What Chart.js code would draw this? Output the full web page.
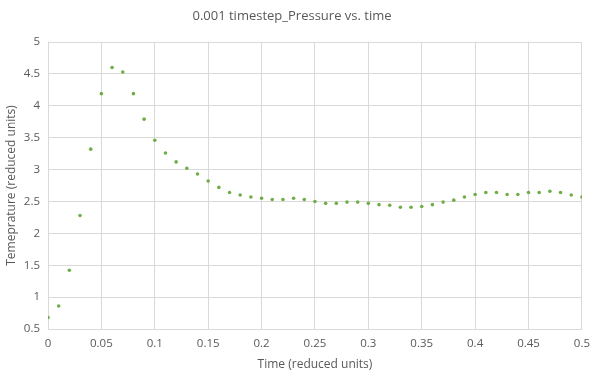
<!DOCTYPE html>
<html>
<head>
<meta charset="utf-8">
<script src="https://cdn.jsdelivr.net/npm/chart.js@4"></script>
<style>
  html, body { margin: 0; padding: 0; background: #fff; }
  #wrap { width: 598px; height: 376px; }
</style>
</head>
<body>
<div id="wrap"><canvas id="chart" width="598" height="376"></canvas></div>
<script>
const times = [0, 0.01, 0.02, 0.03, 0.04, 0.05, 0.06, 0.07, 0.08, 0.09,
    0.1, 0.11, 0.12, 0.13, 0.14, 0.15, 0.16, 0.17, 0.18, 0.19,
    0.2, 0.21, 0.22, 0.23, 0.24, 0.25, 0.26, 0.27, 0.28, 0.29,
    0.3, 0.31, 0.32, 0.33, 0.34, 0.35, 0.36, 0.37, 0.38, 0.39,
    0.4, 0.41, 0.42, 0.43, 0.44, 0.45, 0.46, 0.47, 0.48, 0.49, 0.5];
const temps = [0.68, 0.86, 1.42, 2.28, 3.32, 4.19, 4.60, 4.53, 4.19, 3.79,
    3.46, 3.26, 3.12, 3.02, 2.93, 2.82, 2.72, 2.64, 2.60, 2.57,
    2.55, 2.53, 2.53, 2.55, 2.53, 2.50, 2.47, 2.47, 2.49, 2.49,
    2.47, 2.45, 2.44, 2.41, 2.41, 2.42, 2.45, 2.49, 2.52, 2.57,
    2.61, 2.64, 2.64, 2.61, 2.61, 2.64, 2.64, 2.66, 2.64, 2.60, 2.57];
const xTicks = [0, 0.05, 0.1, 0.15, 0.2, 0.25, 0.3, 0.35, 0.4, 0.45, 0.5];
const yTicks = [0.5, 1, 1.5, 2, 2.5, 3, 3.5, 4, 4.5, 5];

const textColor = '#595959';
const gridColor = '#d9d9d9';
const fontFamily = "'Open Sans', 'Noto Sans', sans-serif";

const ctx = document.getElementById('chart').getContext('2d');
new Chart(ctx, {
    type: 'scatter',
    data: {
        datasets: [{
            label: 'Temperature',
            data: times.map((t, i) => ({ x: t, y: temps[i] })),
            backgroundColor: '#70AD47',
            borderColor: '#70AD47',
            borderWidth: 0,
            pointRadius: 1.8,
            pointHoverRadius: 3
        }]
    },
    options: {
        responsive: false,
        animation: false,
        layout: { padding: { left: 0, right: 14, top: 0, bottom: 0 } },
        plugins: {
            legend: { display: false },
            tooltip: { enabled: false },
            title: {
                display: true,
                text: '0.001 timestep_Pressure vs. time',
                color: textColor,
                font: { family: fontFamily, size: 13, weight: 'normal' },
                padding: { top: 8, bottom: 18.4 }
            }
        },
        scales: {
            x: {
                type: 'linear',
                min: 0,
                max: 0.5,
                afterBuildTicks: (scale) => { scale.ticks = xTicks.map(v => ({ value: v })); },
                afterFit: (scale) => { scale.height = 47; },
                grid: { color: gridColor, drawTicks: false },
                border: { color: gridColor },
                ticks: {
                    color: textColor,
                    padding: 8,
                    maxRotation: 0,
                    font: { family: fontFamily, size: 11.5 },
                    callback: (v) => String(+v.toFixed(2))
                },
                title: {
                    display: true,
                    text: 'Time (reduced units)',
                    color: textColor,
                    font: { family: fontFamily, size: 12 },
                    padding: { top: 0, bottom: 4 }
                }
            },
            y: {
                type: 'linear',
                min: 0.5,
                max: 5,
                afterBuildTicks: (scale) => { scale.ticks = yTicks.map(v => ({ value: v })); },
                afterFit: (scale) => { scale.width = 48; },
                grid: { color: gridColor, drawTicks: false },
                border: { color: gridColor },
                ticks: {
                    color: textColor,
                    padding: 8,
                    font: { family: fontFamily, size: 11.5 },
                    callback: (v) => String(+v.toFixed(2))
                },
                title: {
                    display: true,
                    text: 'Temeprature (reduced units)',
                    color: textColor,
                    font: { family: fontFamily, size: 12 },
                    padding: { top: 4, bottom: 0 }
                }
            }
        }
    }
});
</script>
</body>
</html>
